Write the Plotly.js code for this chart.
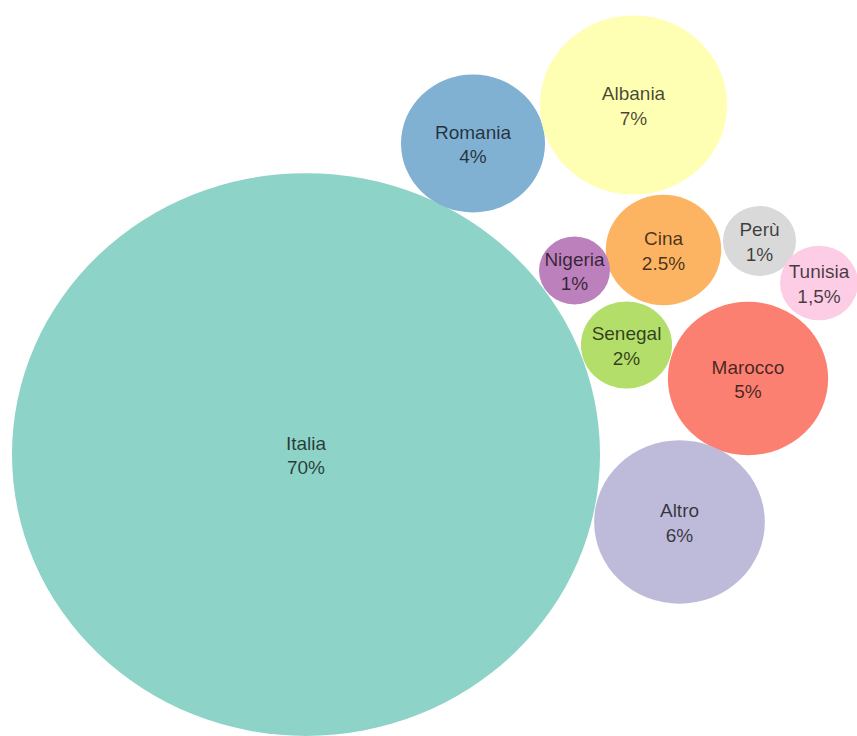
<!DOCTYPE html>
<html>
<head>
<meta charset="utf-8">
<script src="https://cdn.plot.ly/plotly-3.0.1.min.js"></script>
<style>html,body{margin:0;padding:0;background:#fff;}#chart{width:857px;height:736px;}</style>
</head>
<body>
<div id="chart"></div>
<script>
// Data
const countries = ['Italia', 'Romania', 'Albania', 'Cina', 'Perù', 'Tunisia', 'Nigeria', 'Senegal', 'Marocco', 'Altro'];
const shareLabels = ['70%', '4%', '7%', '2.5%', '1%', '1,5%', '1%', '2%', '5%', '6%'];
// bubble areas (share, %)
const bubbleArea = [70, 4.2, 7.1, 2.7, 1.08, 1.23, 1.02, 1.68, 5.2, 5.9];

// Packed layout positions (layout coordinates, circle centres)
const centerX = [306, 473, 633.5, 663.5, 759.5, 819, 574.5, 626.5, 748, 679.5];
const centerY = [474.9, 149.9, 109.7, 261.2, 251.8, 295.7, 282.6, 360.5, 395.5, 545.4];

// Styles
const colors = ['#8dd3c7', '#80b1d3', '#ffffb3', '#fdb462', '#d9d9d9', '#fccde5', '#bc80bd', '#b3de69', '#fb8072', '#bebada'];
const RADIUS_PER_SQRT = 35.14;
const LABEL_NUDGE_Y = 3;

const shapes = countries.map((c, i) => {
  const r = RADIUS_PER_SQRT * Math.sqrt(bubbleArea[i]);
  return {
    type: 'circle', xref: 'x', yref: 'y', layer: 'below',
    x0: centerX[i] - r, x1: centerX[i] + r,
    y0: centerY[i] - r, y1: centerY[i] + r,
    fillcolor: colors[i], line: {width: 0}
  };
});

const trace = {
  type: 'scatter',
  mode: 'text',
  x: centerX,
  y: centerY.map(v => v + LABEL_NUDGE_Y),
  text: countries.map((c, i) => c + '<br>' + shareLabels[i]),
  textposition: 'middle center',
  textfont: {family: '"Liberation Sans", Arial, sans-serif', size: 19, color: 'rgba(0,0,0,0.72)'},
  hoverinfo: 'none',
  showlegend: false
};

const layout = {
  width: 857, height: 736,
  margin: {l: 0, r: 0, t: 0, b: 0, pad: 0},
  paper_bgcolor: '#ffffff', plot_bgcolor: '#ffffff',
  xaxis: {range: [0, 857], visible: false, fixedrange: true},
  yaxis: {range: [769, 0], visible: false, fixedrange: true},
  shapes: shapes,
  showlegend: false
};

Plotly.newPlot('chart', [trace], layout, {displayModeBar: false, staticPlot: true});
</script>
</body>
</html>
